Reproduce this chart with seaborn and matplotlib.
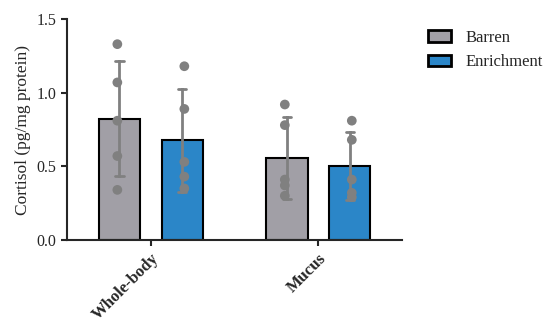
import pandas as pd
import seaborn as sns
import matplotlib.pyplot as plt

sns.set_style('ticks')
plt.rcParams['font.family'] = ['Liberation Serif', 'DejaVu Serif']

groups = ['Whole-body', 'Mucus']
treatments = ['Barren', 'Enrichment']
colors = ['#a19fa6', '#2b86c8']

# five fish per tank condition
wb_barren = [1.33, 1.07, 0.81, 0.57, 0.34]
wb_enrich = [1.18, 0.89, 0.53, 0.43, 0.35]
mu_barren = [0.92, 0.78, 0.41, 0.37, 0.30]
mu_enrich = [0.81, 0.68, 0.41, 0.32, 0.29]

rows = []
for grp, trt, vals in [('Whole-body', 'Barren', wb_barren), ('Whole-body', 'Enrichment', wb_enrich),
                       ('Mucus', 'Barren', mu_barren), ('Mucus', 'Enrichment', mu_enrich)]:
    for v in vals:
        rows.append({'group': grp, 'treatment': trt, 'cortisol': v})
df = pd.DataFrame(rows)

fig = plt.figure(figsize=(5.5, 3.3), dpi=100)
ax = fig.add_axes([0.122, 0.273, 0.609, 0.669])

sns.barplot(data=df, x='group', y='cortisol', hue='treatment', order=groups, hue_order=treatments,
            palette=colors, errorbar='sd', capsize=0.1, width=0.75, gap=0.34,
            err_kws={'color': '#808080', 'linewidth': 2}, edgecolor='black', linewidth=1.5,
            saturation=1, ax=ax)
sns.stripplot(data=df, x='group', y='cortisol', hue='treatment', order=groups, hue_order=treatments,
              dodge=True, jitter=False, palette=['#808080', '#808080'], size=7, legend=False,
              ax=ax, zorder=5)

ax.set_xlim(-0.5, 1.5)
ax.set_ylim(0, 1.5)
ax.set_yticks([0, 0.5, 1.0, 1.5])
ax.set_yticklabels(['0.0', '0.5', '1.0', '1.5'], fontsize=11.5)
ax.set_xlabel('')
ax.set_ylabel('Cortisol (pg/mg protein)', fontsize=12.5)
plt.setp(ax.get_xticklabels(), rotation=45, ha='right', rotation_mode='anchor',
         fontsize=12, fontweight='bold')
ax.tick_params(width=1.5, length=4)
for s in ['left', 'bottom']:
    ax.spines[s].set_linewidth(1.5)
sns.despine(ax=ax)

handles, labels = ax.get_legend_handles_labels()
for h in handles:
    h.set_linewidth(2)
ax.legend(handles, labels, loc='upper left', bbox_to_anchor=(0.75, 0.955),
          bbox_transform=fig.transFigure, frameon=False, fontsize=12,
          handlelength=1.4, handleheight=0.7, labelspacing=0.5, handletextpad=0.9)

plt.savefig('out.png', dpi=100)
